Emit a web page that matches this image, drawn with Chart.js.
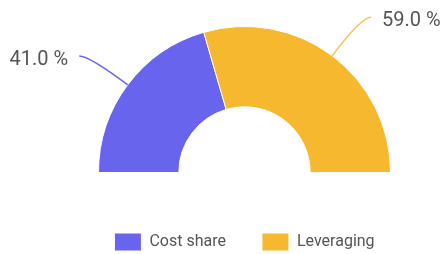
<!DOCTYPE html>
<html>
<head>
<meta charset="utf-8">
<script src="https://cdn.jsdelivr.net/npm/chart.js@4/dist/chart.umd.min.js"></script>
<style>
	html, body { margin: 0; padding: 0; background: #fff; }
	#wrap { width: 443px; height: 254px; }
</style>
</head>
<body>
<div id="wrap"><canvas id="chart" width="443" height="254"></canvas></div>
<script>
var categories = ['Cost share', 'Leveraging'];
var shares = [41.0, 59.0];
var sliceColors = ['#6864ee', '#f5b82e'];
var lineColors = ['#6a66ee', '#f7c55a'];

// draws the "41.0 %" style labels with curved leader lines
var outsideLabels = {
	id: 'outsideLabels',
	afterDatasetsDraw: function(chart) {
		var ctx = chart.ctx;
		var meta = chart.getDatasetMeta(0);
		ctx.save();
		ctx.font = '20px Roboto';
		ctx.fillStyle = '#555555';
		ctx.textBaseline = 'middle';
		for (var i = 0; i < meta.data.length; i++) {
			var arc = meta.data[i];
			var mid = (arc.startAngle + arc.endAngle) / 2;
			var r = arc.outerRadius;
			var dx = Math.cos(mid), dy = Math.sin(mid);
			var side = dx < 0 ? -1 : 1;
			var sx = arc.x + dx * r, sy = arc.y + dy * r;
			var ex = arc.x + dx * r * 1.33, ey = arc.y + dy * r * 1.33;
			var fx = ex + side * 10;

			ctx.strokeStyle = lineColors[i];
			ctx.lineWidth = 1.5;
			ctx.beginPath();
			ctx.moveTo(sx, sy);
			ctx.quadraticCurveTo(ex, ey, fx, ey);
			ctx.stroke();

			ctx.textAlign = side < 0 ? 'right' : 'left';
			ctx.fillText(shares[i].toFixed(1) + ' %', fx + side * 11, ey + 4);
		}
		ctx.restore();
	}
};

var chart = new Chart(document.getElementById('chart'), {
	type: 'doughnut',
	data: {
		labels: categories,
		datasets: [{
			data: shares,
			backgroundColor: sliceColors,
			borderColor: '#ffffff',
			borderWidth: 1
		}]
	},
	options: {
		responsive: false,
		animation: false,
		rotation: -90,
		circumference: 180,
		cutout: '45%',
		radius: 146,
		layout: { padding: { left: 46, right: 0, top: 2, bottom: -7 } },
		plugins: {
			tooltip: { enabled: false },
			legend: {
				position: 'bottom',
				labels: {
					boxWidth: 27,
					boxHeight: 18,
					padding: 36,
					color: '#555555',
					font: { family: 'Roboto', size: 16 }
				}
			}
		}
	},
	plugins: [outsideLabels]
});
</script>
</body>
</html>
